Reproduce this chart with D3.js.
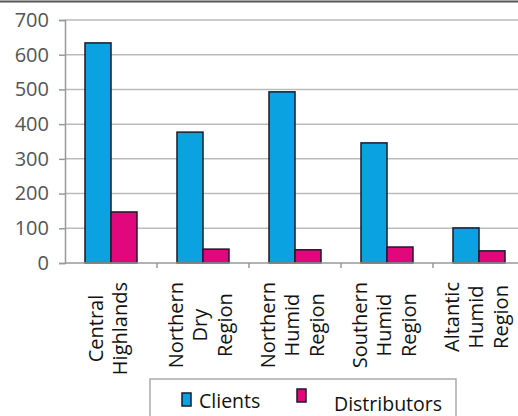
<!DOCTYPE html>
<html>
  <head>
    <style>
      body { margin: 0; background: #fff; }
      text { font-family: "Open Sans", sans-serif; }
    </style>
    <script src="https://cdn.jsdelivr.net/npm/d3@7"></script>
  </head>
  <body>
    <svg id="chart" width="518" height="416"></svg>
    <script>
      const regions = [
        ["Central", "Highlands"],
        ["Northern", "Dry", "Region"],
        ["Northern", "Humid", "Region"],
        ["Southern", "Humid", "Region"],
        ["Altantic", "Humid", "Region"]
      ];
      const series = ["Clients", "Distributors"];
      const clients = [634, 377, 493, 346, 101];
      const distributors = [147, 40, 38, 46, 35];
      const yTicks = [0, 100, 200, 300, 400, 500, 600, 700];
      const colors = { Clients: "#0aa2e0", Distributors: "#e0087c" };

      const svg = d3.select("#chart");
      const plotLeft = 65, plotRight = 525, plotTop = 20, plotBottom = 263;

      // frame line across the top
      svg.append("line")
        .attr("x1", 0).attr("x2", 518).attr("y1", 1.5).attr("y2", 1.5)
        .attr("stroke", "#555").attr("stroke-width", 2);

      const keys = regions.map((r, i) => i);
      const x = d3.scaleBand().domain(keys).range([plotLeft, plotRight]);
      const xInner = d3.scaleBand().domain(series).range([0, 52]);
      const y = d3.scaleLinear().domain([0, 700]).range([plotBottom, plotTop]);

      // grid
      svg.append("g")
        .selectAll("line")
        .data(yTicks.slice(1))
        .join("line")
        .attr("x1", plotLeft).attr("x2", plotRight)
        .attr("y1", d => y(d)).attr("y2", d => y(d))
        .attr("stroke", "#bbb").attr("stroke-width", 1.5);

      // y axis
      const yAxis = svg.append("g")
        .attr("transform", `translate(${plotLeft},0)`)
        .call(d3.axisLeft(y).tickValues(yTicks).tickSize(6).tickPadding(10));
      yAxis.select(".domain").attr("stroke", "#999").attr("stroke-width", 1.5);
      yAxis.selectAll(".tick line").attr("stroke", "#999").attr("stroke-width", 1.5);
      yAxis.selectAll("text")
        .attr("font-size", 20).attr("fill", "#555")
        .style("font-family", "'Open Sans', sans-serif");

      // bars
      const groups = svg.append("g")
        .selectAll("g")
        .data(keys)
        .join("g")
        .attr("transform", d => `translate(${x(d) + (x.bandwidth() - 52) / 2},0)`);

      groups.selectAll("rect")
        .data(i => [
          { key: "Clients", value: clients[i] },
          { key: "Distributors", value: distributors[i] }
        ])
        .join("rect")
        .attr("x", d => xInner(d.key))
        .attr("width", xInner.bandwidth())
        .attr("y", d => y(d.value))
        .attr("height", d => y(0) - y(d.value))
        .attr("fill", d => colors[d.key])
        .attr("stroke", "#1a1a2a")
        .attr("stroke-width", 1.5);

      // x axis
      svg.append("line")
        .attr("x1", plotLeft).attr("x2", plotRight).attr("y1", plotBottom).attr("y2", plotBottom)
        .attr("stroke", "#999").attr("stroke-width", 1.5);
      svg.append("g")
        .selectAll("line")
        .data(keys.slice(1))
        .join("line")
        .attr("x1", d => x(d)).attr("x2", d => x(d))
        .attr("y1", plotBottom).attr("y2", plotBottom + 5)
        .attr("stroke", "#999").attr("stroke-width", 1.5);

      // rotated category labels, block anchored at top, lines centered
      const lineGap = 24.5;
      keys.forEach(i => {
        const lines = regions[i];
        const g = svg.append("g");
        const texts = g.selectAll("text")
          .data(lines)
          .join("text")
          .attr("font-size", 20)
          .attr("fill", "#111")
          .attr("text-anchor", "middle")
          .text(d => d);
        const maxLen = d3.max(texts.nodes(), n => n.getComputedTextLength());
        const cy = 282 + maxLen / 2;
        const cx = x(i) + x.bandwidth() / 2;
        const n = lines.length;
        texts.attr("transform", (d, j) => {
          const lx = cx + (j - (n - 1) / 2) * lineGap + 4;
          return `translate(${lx},${cy}) rotate(-90)`;
        });
      });

      // legend
      const legend = svg.append("g");
      legend.append("rect")
        .attr("x", 150).attr("y", 379).attr("width", 306).attr("height", 45)
        .attr("fill", "#fff").attr("stroke", "#aaa").attr("stroke-width", 1.5);
      const legendItems = [
        { key: "Clients", mx: 182, my: 393, tx: 199, ty: 408 },
        { key: "Distributors", mx: 297, my: 389, tx: 334, ty: 411 }
      ];
      legend.selectAll("rect.m")
        .data(legendItems)
        .join("rect")
        .attr("class", "m")
        .attr("x", d => d.mx).attr("y", d => d.my)
        .attr("width", 9).attr("height", 13)
        .attr("fill", d => colors[d.key])
        .attr("stroke", "#1a1a2a").attr("stroke-width", 1.5);
      legend.selectAll("text")
        .data(legendItems)
        .join("text")
        .attr("x", d => d.tx).attr("y", d => d.ty)
        .attr("font-size", 19.5)
        .attr("fill", "#111")
        .text(d => d.key);
    </script>
  </body>
</html>
